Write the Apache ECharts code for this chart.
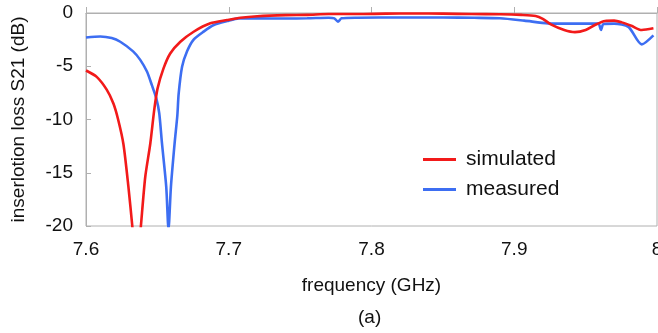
<!DOCTYPE html>
<html>
<head>
<meta charset="utf-8">
<script src="https://cdn.jsdelivr.net/npm/echarts@6/dist/echarts.min.js"></script>
<style>html,body{margin:0;padding:0;background:#fff;}#c{width:658px;height:333px;}</style>
</head>
<body>
<div id="c"></div>
<script>
const xTicks = [7.6, 7.7, 7.8, 7.9, 8.0];
const yTicks = [-20, -15, -10, -5, 0];
const seriesNames = ['simulated', 'measured'];

const simFreq = [7.600, 7.6075, 7.6145, 7.6192, 7.6225, 7.6262, 7.6297, 7.6325, 7.6355, 7.6384, 7.6415, 7.6450, 7.6478, 7.6501, 7.6543, 7.6590, 7.6661, 7.6754, 7.6871, 7.6989, 7.7082, 7.72, 7.74, 7.755, 7.77, 7.79, 7.81, 7.83, 7.85, 7.87, 7.89, 7.905, 7.915, 7.920, 7.926, 7.935, 7.9425, 7.950, 7.9565, 7.9636, 7.970, 7.9753, 7.982, 7.9893, 7.9975];
const simLoss = [-5.4, -6.0, -7.2, -8.5, -10.0, -12.3, -16.3, -20.1, -24.5, -20.1, -15.4, -12.3, -9.1, -7.1, -5.2, -3.8, -2.7, -1.76, -0.97, -0.66, -0.44, -0.3, -0.2, -0.18, -0.1, -0.1, -0.06, -0.05, -0.06, -0.1, -0.12, -0.18, -0.28, -0.55, -1.1, -1.6, -1.8, -1.6, -1.13, -0.75, -0.72, -0.88, -1.2, -1.6, -1.44];

const measFreq = [7.600, 7.610, 7.618, 7.624, 7.633, 7.638, 7.6427, 7.6462, 7.6492, 7.6513, 7.6532, 7.6562, 7.6578, 7.6595, 7.6621, 7.6640, 7.6649, 7.6673, 7.6708, 7.6754, 7.6824, 7.6895, 7.6989, 7.707, 7.72, 7.74, 7.755, 7.77, 7.774, 7.7765, 7.779, 7.79, 7.82, 7.85, 7.872, 7.89, 7.907, 7.9237, 7.94, 7.9589, 7.9607, 7.9625, 7.970, 7.980, 7.9893, 7.9975];
const measLoss = [-2.3, -2.2, -2.35, -2.7, -3.6, -4.4, -5.5, -6.8, -8.0, -9.4, -12.2, -16.3, -20.3, -16.3, -12.2, -9.6, -7.6, -5.05, -3.6, -2.5, -1.75, -1.13, -0.75, -0.5, -0.5, -0.52, -0.5, -0.44, -0.5, -0.82, -0.5, -0.44, -0.42, -0.42, -0.45, -0.5, -0.72, -0.97, -1.0, -1.0, -1.6, -1.03, -1.0, -1.3, -2.95, -2.1];

const FONT = 'Liberation Sans';
const pair = (xs, ys) => xs.map((x, i) => [x, ys[i]]);

const chart = echarts.init(document.getElementById('c'), null, {renderer: 'canvas'});
chart.setOption({
  animation: false,
  backgroundColor: '#ffffff',
  textStyle: {fontFamily: FONT},
  grid: {left: 86, right: 1, top: 13, bottom: 107, show: true, borderColor: '#b0b0b0', borderWidth: 1,
         containLabel: false, outerBoundsMode: 'none'},
  legend: {
    data: seriesNames,
    orient: 'vertical',
    left: 418, top: 144,
    icon: 'rect', itemWidth: 33, itemHeight: 3, itemGap: 9,
    textStyle: {fontFamily: FONT, fontSize: 21, color: '#111', padding: [0, 0, 0, 5]}
  },
  xAxis: {
    type: 'value', min: xTicks[0], max: xTicks[xTicks.length - 1], interval: 0.1,
    name: 'frequency (GHz)', nameLocation: 'middle', nameGap: 50,
    nameTextStyle: {fontFamily: FONT, fontSize: 19, color: '#111'},
    axisLine: {show: true, lineStyle: {color: '#b0b0b0', width: 1}},
    axisTick: {show: true, inside: true, length: 6, lineStyle: {color: '#b0b0b0'}},
    axisLabel: {fontFamily: FONT, fontSize: 19, color: '#111', margin: 14,
      formatter: v => { const r = Math.round(v * 10) / 10; return xTicks.includes(r) ? (r === 8 ? '8' : r.toFixed(1)) : ''; }},
    splitLine: {show: false}
  },
  yAxis: {
    type: 'value', min: yTicks[0], max: yTicks[yTicks.length - 1], interval: 5,
    name: 'inserlotion loss S21 (dB)', nameLocation: 'middle', nameGap: 58, nameRotate: 90,
    nameTextStyle: {fontFamily: FONT, fontSize: 19, color: '#111'},
    axisLine: {show: true, lineStyle: {color: '#b0b0b0', width: 1}},
    axisTick: {show: true, inside: true, length: 5, lineStyle: {color: '#b0b0b0'}},
    axisLabel: {fontFamily: FONT, fontSize: 19, color: '#111', margin: 13},
    splitLine: {show: false}
  },
  series: [
    {name: seriesNames[0], type: 'line', data: pair(simFreq, simLoss), showSymbol: false, clip: true, smooth: 0.25,
     color: '#f21a1a', lineStyle: {width: 2.6, color: '#f21a1a'}, z: 3},
    {name: seriesNames[1], type: 'line', data: pair(measFreq, measLoss), showSymbol: false, clip: true, smooth: 0.25,
     color: '#3d6ef2', lineStyle: {width: 2.6, color: '#3d6ef2'}, z: 2}
  ],
  graphic: [{type: 'text', left: 358, top: 308, style: {text: '(a)', font: '19px "Liberation Sans"', fill: '#111'}}]
});
</script>
</body>
</html>
